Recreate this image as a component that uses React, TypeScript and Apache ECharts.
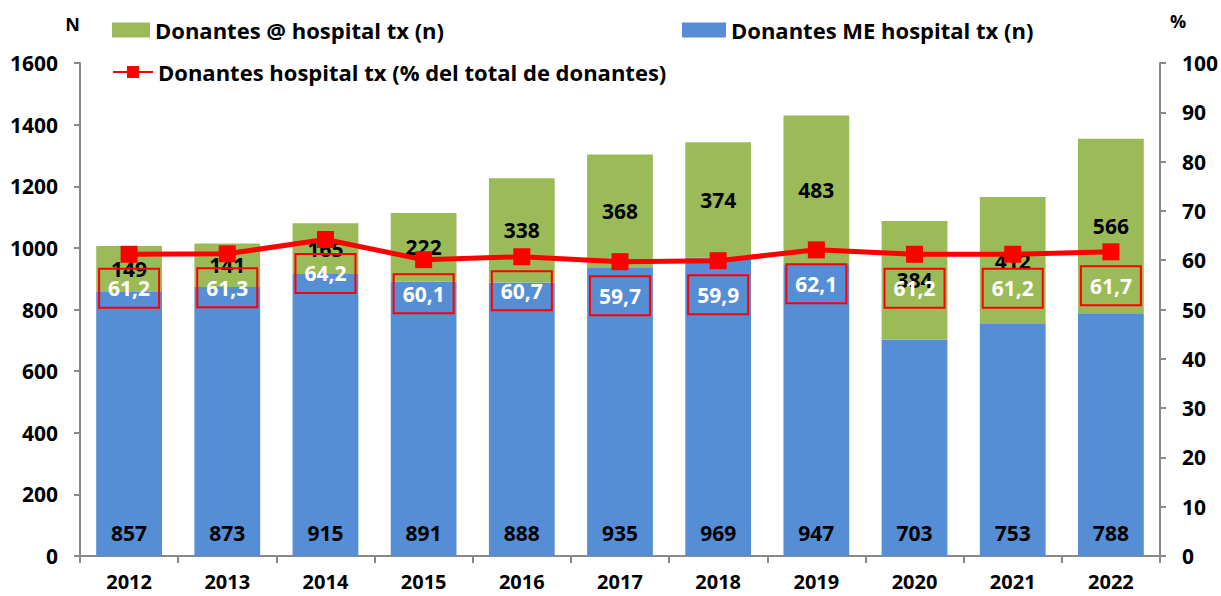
import React, { useEffect, useRef } from "react";
import * as echarts from "echarts";

const years = ["2012", "2013", "2014", "2015", "2016", "2017", "2018", "2019", "2020", "2021", "2022"];
const meDonors = [857, 873, 915, 891, 888, 935, 969, 947, 703, 753, 788];
const atDonors = [149, 141, 165, 222, 338, 368, 374, 483, 384, 412, 566];
const pctHospital = [61.2, 61.3, 64.2, 60.1, 60.7, 59.7, 59.9, 62.1, 61.2, 61.2, 61.7];

const FONT = "Open Sans";

export default function App() {
  const ref = useRef<HTMLDivElement>(null);
  useEffect(() => {
    if (!ref.current) return;
    const chart = echarts.init(ref.current, undefined, { renderer: "svg" });
    const axisLabel = { color: "#000", fontWeight: "bold", fontSize: 20, fontFamily: FONT };
    const legendText = { fontSize: 22, fontWeight: "bold", color: "#000", fontFamily: FONT };
    chart.setOption({
      animation: false,
      textStyle: { fontFamily: FONT },
      grid: { left: 80, right: 61, top: 63, bottom: 40 },
      legend: [
        {
          left: 107, top: 14, itemWidth: 38, itemHeight: 15, itemGap: 10,
          icon: "rect", textStyle: legendText,
          data: ["Donantes @ hospital tx (n)"],
        },
        {
          left: 677, top: 14, itemWidth: 44, itemHeight: 15,
          icon: "rect", textStyle: legendText,
          data: ["Donantes ME hospital tx (n)"],
        },
        {
          left: 107, top: 56, itemWidth: 40, itemHeight: 15,
          textStyle: legendText,
          data: ["Donantes hospital tx (% del total de donantes)"],
        },
      ],
      xAxis: {
        type: "category",
        data: years,
        axisLine: { lineStyle: { color: "#898989", width: 2 } },
        axisTick: { show: true, length: 7, lineStyle: { color: "#898989", width: 2 } },
        axisLabel: { ...axisLabel, margin: 15 },
      },
      yAxis: [
        {
          type: "value", min: 0, max: 1600, interval: 200,
          name: "N", nameLocation: "end", nameGap: 30,
          nameTextStyle: { color: "#000", fontWeight: "bold", fontSize: 18, fontFamily: FONT, align: "right", padding: [0, 0, 0, 0] },
          axisLine: { show: true, lineStyle: { color: "#898989", width: 2 } },
          axisTick: { show: true, length: 6, lineStyle: { color: "#898989", width: 2 } },
          splitLine: { show: false },
          axisLabel: { ...axisLabel, fontSize: 21, margin: 22, formatter: (v: number) => String(v) },
        },
        {
          type: "value", min: 0, max: 100, interval: 10, position: "right",
          name: "%", nameLocation: "end", nameGap: 33,
          nameTextStyle: { color: "#000", fontWeight: "bold", fontSize: 18, fontFamily: FONT, align: "left", padding: [0, 0, 0, 10] },
          axisLine: { show: true, lineStyle: { color: "#898989", width: 2 } },
          axisTick: { show: true, length: 6, lineStyle: { color: "#898989", width: 2 } },
          splitLine: { show: false },
          axisLabel: { ...axisLabel, fontSize: 21, margin: 22 },
        },
      ],
      series: [
        {
          name: "Donantes ME hospital tx (n)",
          type: "bar", stack: "total", data: meDonors,
          barCategoryGap: "33%",
          itemStyle: { color: "#558ED5" },
          label: { show: true, position: "insideBottom", distance: 13, color: "#000", fontWeight: "bold", fontSize: 21, fontFamily: FONT },
        },
        {
          name: "Donantes @ hospital tx (n)",
          type: "bar", stack: "total", data: atDonors,
          itemStyle: { color: "#9BBB59" },
          label: { show: true, position: "inside", color: "#000", fontWeight: "bold", fontSize: 21, fontFamily: FONT },
        },
        {
          name: "Donantes hospital tx (% del total de donantes)",
          type: "line", yAxisIndex: 1, data: pctHospital,
          z: 5,
          symbol: "rect", symbolSize: 17,
          lineStyle: { color: "#FF0000", width: 5 },
          itemStyle: { color: "#FF0000" },
          label: {
            show: true, position: "bottom", distance: 6,
            formatter: (p: any) => String(p.value).replace(".", ","),
            color: "#fff", fontWeight: "bold", fontSize: 21, fontFamily: FONT,
            borderColor: "#FF0000", borderWidth: 2, padding: [7, 8, 7, 8],
            width: 44, lineHeight: 25, align: "center",
          },
        },
      ],
    });
    return () => chart.dispose();
  }, []);
  return (
    <div
      ref={ref}
      style={{ position: "absolute", left: 0, top: 0, width: 1221, height: 596, overflow: "hidden" }}
    />
  );
}
